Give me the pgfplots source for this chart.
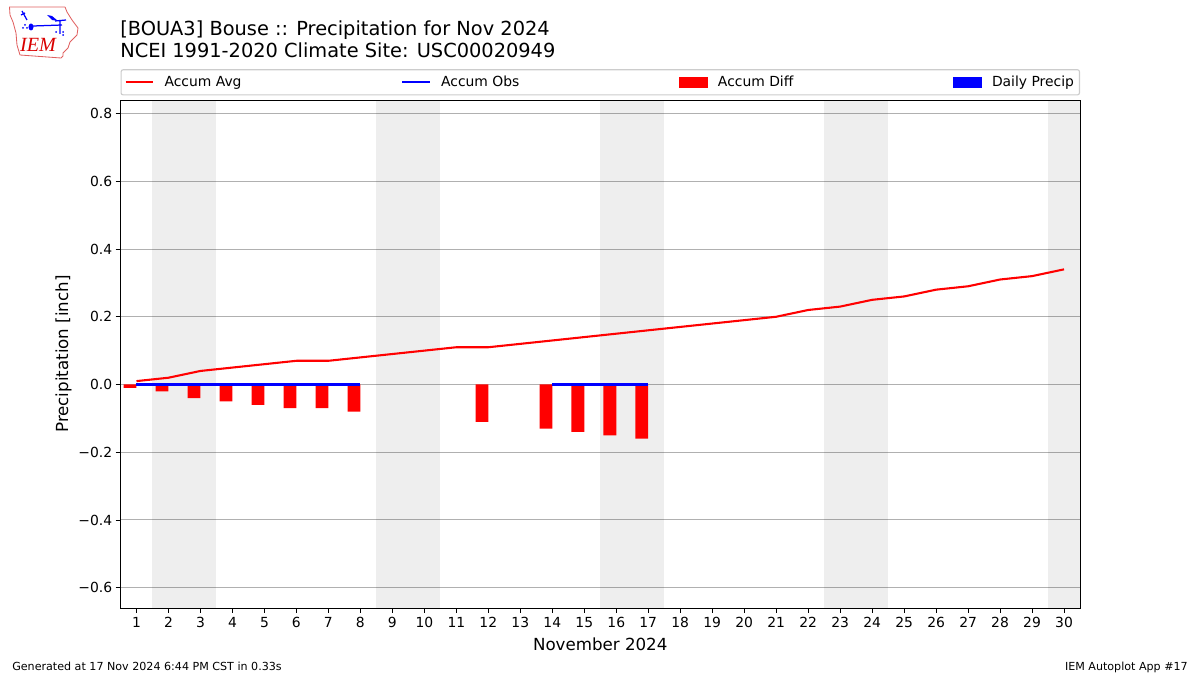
\documentclass[border=0pt]{standalone}
\usepackage{pgfplots}
\pgfplotsset{compat=1.18}
\usepackage{fontspec}
\setmainfont{DejaVu Sans}
\newfontfamily\logofont{Liberation Serif}
\definecolor{gridc}{HTML}{B0B0B0}
\definecolor{legc}{HTML}{CCCCCC}
\definecolor{logor}{HTML}{E06060}
\definecolor{bluep}{HTML}{0000FF}
\newcommand{\fs}[1]{\fontsize{#1bp}{#1bp}\selectfont}
\begin{document}
\begin{tikzpicture}[x=0.72bp,y=-0.72bp]
\path[use as bounding box] (0,0) rectangle (1200,675);
% logo
\draw[logor,line width=0.6bp,line join=round] (9.5,7) -- (65,7) -- (67,12) -- (72,20) -- (78,28) -- (77,35) -- (70,42) -- (68,48) -- (63,53) -- (63,56) -- (61,58) -- (20,55) -- (17,45) -- (16,33) -- (13,22) -- (10,15) -- cycle;
\draw[bluep,line width=0.9bp] (22,11) -- (27,20) (21,15) -- (25,13) (33,26) -- (62,25) (60,21) -- (60,34) (55,21) -- (66,20);
\fill[bluep] (31,27) ellipse (2.5 and 3.5);
\fill[bluep] (47,15) -- (52,16) -- (58,21) -- (52,20) -- cycle;
\fill[bluep] (25,25) circle (1) (27,28) circle (1) (23,28) circle (1) (56,32) circle (1) (63,35) circle (1) (63,32) circle (1);
\node[anchor=base,text=red!85!black,inner sep=0pt] at (38,52) {\logofont\itshape\fs{14.5}IEM};
% titles
\node[anchor=base west,inner sep=0pt] at (120,35.5) {\fs{13.95}[BOUA3] Bouse :: Precipitation for Nov 2024};
\node[anchor=base west,inner sep=0pt] at (120,57.5) {\fs{13.95}NCEI 1991-2020 Climate Site: USC00020949};
\node[anchor=base west,inner sep=0pt] at (12,670) {\fs{8}Generated at 17 Nov 2024 6:44 PM CST in 0.33s};
\node[anchor=base east,inner sep=0pt] at (1188,670) {\fs{8}IEM Autoplot App \#17};
\begin{axis}[
  at={(86.76bp,-437.76bp)}, anchor=south west,
  scale only axis,
  width=690.84bp, height=365.76bp,
  xmin=0.5, xmax=30.5, ymin=-0.66, ymax=0.84,
  xtick={1,...,30},
  ytick={-0.6,-0.4,-0.2,0,0.2,0.4,0.6,0.8},
  yticklabels={−0.6,−0.4,−0.2,0.0,0.2,0.4,0.6,0.8},
  tick style={black,line width=0.6bp},
  tick align=outside, major tick length=3.5bp,
  xtick pos=bottom, ytick pos=left,
  axis line style={black,line width=0.6bp},
  ymajorgrids, grid style={gridc,line width=0.72bp},
  tick label style={font=\fs{10}},
  /pgf/number format/assume math mode=true,
  xticklabel style={yshift=0.5bp},
  yticklabel style={xshift=1bp},
  xlabel={\fs{12}November 2024},
  ylabel={\fs{12}Precipitation [inch]},
  xlabel style={at={(axis description cs:0.5,0)},anchor=base,yshift=-30.3bp},
  ylabel style={at={(axis description cs:0,0.5)},anchor=base,yshift=37.7bp},
  legend columns=4,
  legend cell align=left,
  legend style={at={(0,1.009)},anchor=south west,draw=legc,rounded corners=1.5bp,line width=0.8bp,
    font=\fs{10},inner xsep=2.5bp,inner ysep=3bp,
    /tikz/every even column/.append style={column sep=113.4bp},
    /tikz/every odd column/.append style={column sep=5.8bp},
    nodes={inner sep=1.5bp}},
]
\addlegendimage{legend image code/.code={\draw[red,line width=1.5bp,sharp corners] (0bp,0bp) -- (20bp,0bp);}}
\addlegendentry{Accum Avg}
\addlegendimage{legend image code/.code={\draw[bluep,line width=1.5bp,sharp corners] (0bp,0bp) -- (20bp,0bp);}}
\addlegendentry{Accum Obs}
\addlegendimage{legend image code/.code={\fill[red,sharp corners] (0bp,-3.5bp) rectangle (20bp,3.5bp);}}
\addlegendentry{Accum Diff}
\addlegendimage{legend image code/.code={\fill[bluep,sharp corners] (0bp,-3.5bp) rectangle (20bp,3.5bp);}}
\addlegendentry{Daily Precip}
% weekends
\addplot[forget plot,fill=black,fill opacity=0.068,draw=none] coordinates {(1.5,-0.66)(3.5,-0.66)(3.5,0.84)(1.5,0.84)} -- cycle;
\addplot[forget plot,fill=black,fill opacity=0.068,draw=none] coordinates {(8.5,-0.66)(10.5,-0.66)(10.5,0.84)(8.5,0.84)} -- cycle;
\addplot[forget plot,fill=black,fill opacity=0.068,draw=none] coordinates {(15.5,-0.66)(17.5,-0.66)(17.5,0.84)(15.5,0.84)} -- cycle;
\addplot[forget plot,fill=black,fill opacity=0.068,draw=none] coordinates {(22.5,-0.66)(24.5,-0.66)(24.5,0.84)(22.5,0.84)} -- cycle;
\addplot[forget plot,fill=black,fill opacity=0.068,draw=none] coordinates {(29.5,-0.66)(30.5,-0.66)(30.5,0.84)(29.5,0.84)} -- cycle;
% accum diff
\addplot[forget plot,ybar,bar width=0.4,bar shift=-0.2,fill=red,draw=none] coordinates {
(1,-0.01)(2,-0.02)(3,-0.04)(4,-0.05)(5,-0.06)(6,-0.07)(7,-0.07)(8,-0.08)
(12,-0.11)(14,-0.13)(15,-0.14)(16,-0.15)(17,-0.16)};
% accum avg
\addplot[forget plot,red,line width=1.5bp,line join=round] coordinates {
(1,0.01)(2,0.02)(3,0.04)(4,0.05)(5,0.06)(6,0.07)(7,0.07)(8,0.08)(9,0.09)(10,0.10)
(11,0.11)(12,0.11)(13,0.12)(14,0.13)(15,0.14)(16,0.15)(17,0.16)(18,0.17)(19,0.18)(20,0.19)
(21,0.20)(22,0.22)(23,0.23)(24,0.25)(25,0.26)(26,0.28)(27,0.29)(28,0.31)(29,0.32)(30,0.34)};
% accum obs
\addplot[forget plot,bluep,line width=1.5bp] coordinates {(1,0)(2,0)(3,0)(4,0)(5,0)(6,0)(7,0)(8,0)};
\addplot[forget plot,bluep,line width=1.5bp] coordinates {(14,0)(15,0)(16,0)(17,0)};
\end{axis}
\end{tikzpicture}
\end{document}
